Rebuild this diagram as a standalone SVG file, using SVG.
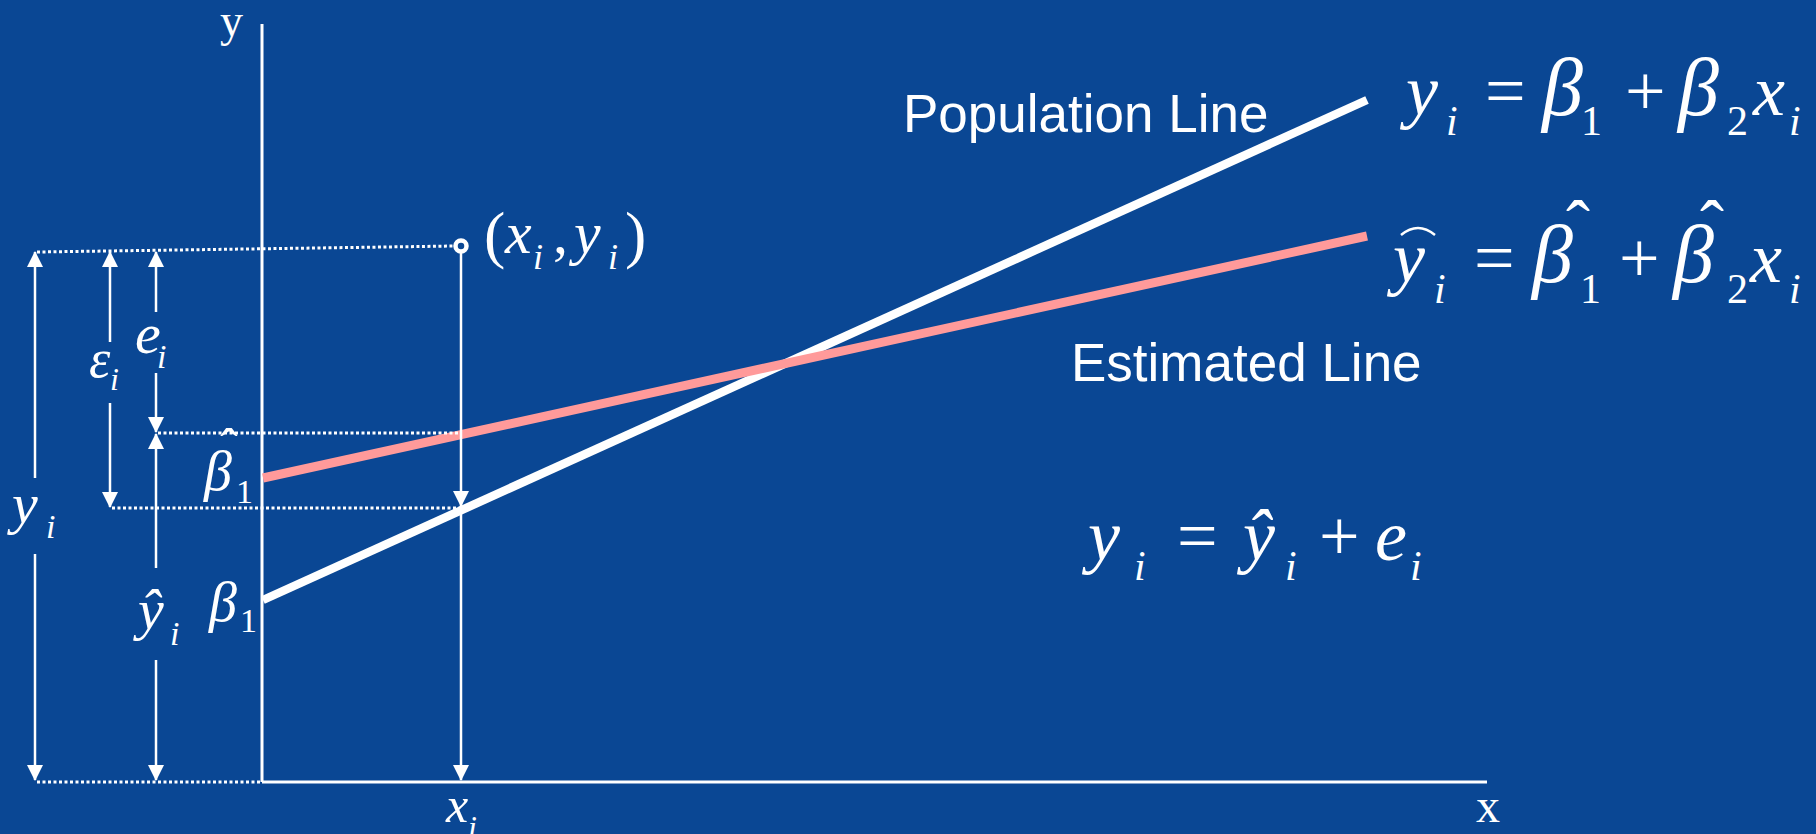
<svg xmlns="http://www.w3.org/2000/svg" width="1816" height="834" viewBox="0 0 1816 834">
<style>
.m{font-family:"Liberation Serif","Times New Roman",serif;font-style:italic;fill:#fff}
.r{font-family:"Liberation Serif","Times New Roman",serif;fill:#fff}
.h{font-family:"Liberation Serif","Times New Roman",serif;fill:#fff;text-anchor:middle}
.s{font-family:"Liberation Sans",Arial,sans-serif;fill:#fff;font-size:53px}
.ax{stroke:#fff;stroke-width:3;fill:none}
.ar{stroke:#fff;stroke-width:2.5;fill:none}
.dot{stroke:#fff;stroke-width:3;stroke-dasharray:3 2.5;fill:none}
</style>
<defs>
<marker id="ah" viewBox="0 0 16 16" refX="15" refY="8" markerWidth="16" markerHeight="16" markerUnits="userSpaceOnUse" orient="auto-start-reverse"><path d="M0,0 L16,8 L0,16 z" fill="#fff"/></marker>
</defs>
<rect width="1816" height="834" fill="#0A4794"/>
<g id="axes">
<line class="ax" x1="262" y1="24" x2="262" y2="782"/>
<line class="ax" x1="262" y1="782" x2="1487" y2="782"/>
<text class="r" x="220" y="36" font-size="46">y</text>
<text class="r" x="1476" y="822" font-size="48">x</text>
</g>
<g id="population-line">
<line x1="263" y1="600" x2="1367" y2="100" stroke="#fff" stroke-width="8.5"/>
<text class="s" x="903" y="132">Population Line</text>
</g>
<g id="estimated-line">
<line x1="263" y1="478" x2="1367" y2="236" stroke="#FF9A9A" stroke-width="9"/>
<text class="s" x="1071" y="381">Estimated Line</text>
</g>
<g id="connectors">
<line class="dot" x1="37" y1="252" x2="455" y2="246"/>
<line class="dot" x1="158" y1="433" x2="462" y2="433"/>
<line class="dot" x1="112" y1="508" x2="462" y2="508"/>
<line class="dot" x1="37" y1="782" x2="262" y2="782"/>
<line class="ar" x1="35" y1="252" x2="35" y2="478" marker-start="url(#ah)"/>
<line class="ar" x1="35" y1="554" x2="35" y2="780" marker-end="url(#ah)"/>
<line class="ar" x1="110" y1="252" x2="110" y2="342" marker-start="url(#ah)"/>
<line class="ar" x1="110" y1="403" x2="110" y2="507" marker-end="url(#ah)"/>
<line class="ar" x1="156" y1="252" x2="156" y2="312" marker-start="url(#ah)"/>
<line class="ar" x1="156" y1="373" x2="156" y2="432" marker-end="url(#ah)"/>
<line class="ar" x1="156" y1="434" x2="156" y2="568" marker-start="url(#ah)"/>
<line class="ar" x1="156" y1="660" x2="156" y2="780" marker-end="url(#ah)"/>
<line class="ar" x1="461" y1="252" x2="461" y2="506" marker-end="url(#ah)"/>
<line class="ar" x1="461" y1="506" x2="461" y2="780" marker-end="url(#ah)"/>
</g>
<g id="data-point">
<circle cx="461" cy="246" r="5.5" fill="none" stroke="#fff" stroke-width="4.5"/>
<text class="r" x="484" y="256" font-size="64">(</text>
<text class="m" x="505" y="253" font-size="60">x</text>
<text class="m" x="533" y="269" font-size="36">i</text>
<text class="r" x="553" y="253" font-size="60">,</text>
<text class="m" x="574" y="253" font-size="60">y</text>
<text class="m" x="608" y="269" font-size="36">i</text>
<text class="r" x="625" y="256" font-size="64">)</text>
</g>
<g id="label-yi">
<text class="m" x="12" y="523" font-size="58">y</text>
<text class="m" x="46" y="538" font-size="34">i</text>
</g>
<g id="label-epsilon">
<text class="m" x="89" y="377" font-size="54">ε</text>
<text class="m" x="110" y="390" font-size="32">i</text>
</g>
<g id="label-ei">
<text class="m" x="135" y="353" font-size="58">e</text>
<text class="m" x="157" y="368" font-size="34">i</text>
</g>
<g id="label-yhat">
<text class="m" x="138" y="629" font-size="58">ŷ</text>
<text class="m" x="170" y="645" font-size="34">i</text>
</g>
<g id="label-beta1hat">
<text class="m" x="204" y="490" font-size="56">β</text>
<text class="h" x="229" y="465" font-size="52">ˆ</text>
<text class="r" x="236" y="503" font-size="34">1</text>
</g>
<g id="label-beta1">
<text class="m" x="209" y="621" font-size="56">β</text>
<text class="r" x="240" y="632" font-size="34">1</text>
</g>
<g id="label-xi">
<text class="m" x="446" y="822" font-size="50">x</text>
<text class="m" x="468" y="838" font-size="32">i</text>
</g>
<g id="eq-population">
<text class="m" x="1406" y="115" font-size="72">y</text>
<text class="m" x="1446" y="135" font-size="42">i</text>
<text class="r" x="1485" y="115" font-size="72">=</text>
<text class="m" x="1542" y="115" font-size="82">β</text>
<text class="r" x="1581" y="135" font-size="42">1</text>
<text class="r" x="1625" y="115" font-size="72">+</text>
<text class="m" x="1678" y="115" font-size="82">β</text>
<text class="r" x="1727" y="135" font-size="42">2</text>
<text class="m" x="1753" y="115" font-size="72">x</text>
<text class="m" x="1789" y="135" font-size="42">i</text>
</g>
<g id="eq-estimated">
<path d="M1401,235 Q1418,221 1435,235" stroke="#fff" stroke-width="2.5" fill="none"/>
<text class="m" x="1393" y="282" font-size="72">y</text>
<text class="m" x="1434" y="303" font-size="42">i</text>
<text class="r" x="1474" y="282" font-size="72">=</text>
<text class="m" x="1532" y="282" font-size="82">β</text>
<text class="h" x="1578" y="250" font-size="72">ˆ</text>
<text class="r" x="1580" y="303" font-size="42">1</text>
<text class="r" x="1619" y="282" font-size="72">+</text>
<text class="m" x="1673" y="282" font-size="82">β</text>
<text class="h" x="1712" y="250" font-size="72">ˆ</text>
<text class="r" x="1727" y="303" font-size="42">2</text>
<text class="m" x="1750" y="282" font-size="72">x</text>
<text class="m" x="1789" y="303" font-size="42">i</text>
</g>
<g id="eq-residual">
<text class="m" x="1088" y="560" font-size="72">y</text>
<text class="m" x="1134" y="580" font-size="42">i</text>
<text class="r" x="1177" y="560" font-size="72">=</text>
<text class="m" x="1243" y="560" font-size="72">ŷ</text>
<text class="m" x="1285" y="580" font-size="42">i</text>
<text class="r" x="1319" y="560" font-size="72">+</text>
<text class="m" x="1375" y="560" font-size="72">e</text>
<text class="m" x="1410" y="580" font-size="42">i</text>
</g>
</svg>
